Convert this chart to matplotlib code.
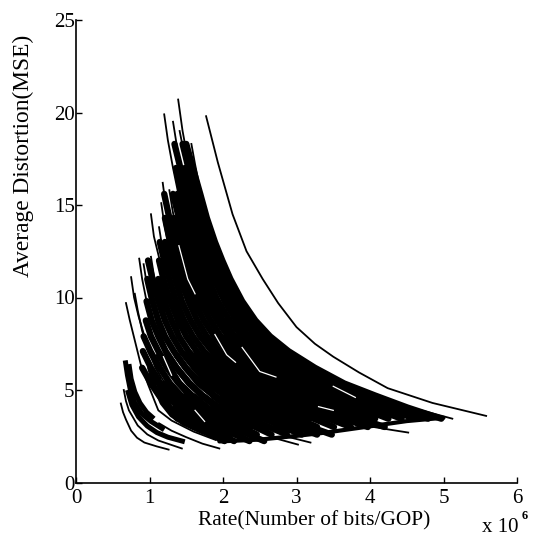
import matplotlib
matplotlib.use("Agg")
from matplotlib import pyplot as plt

plt.rcParams["font.family"] = ["Liberation Serif", "DejaVu Serif"]

X_TICKS = [0, 1, 2, 3, 4, 5, 6]
Y_TICKS = [0, 5, 10, 15, 20, 25]

# isolated curve on the right of the cloud
OUTER_RATE = [1.77, 1.93, 2.13, 2.32, 2.54, 2.75, 3.0, 3.25, 3.5, 3.85, 4.24, 4.85, 5.58]
OUTER_DIST = [19.8, 17.3, 14.5, 12.5, 11.0, 9.7, 8.4, 7.5, 6.8, 5.95, 5.1, 4.3, 3.6]

# dense cloud: each row holds the rates of one curve, lined up with the END
# of the distortion levels of its group (short rows start further down)
UPPER_LEVELS = [18.3, 17.0, 15.6, 14.3, 13.0, 12.0, 11.0, 9.8, 8.76, 7.9, 7.1, 6.2, 5.35, 4.7, 4.05, 3.45]
UPPER_RATES = [
    [1.50, 1.59, 1.69, 1.78, 1.89, 1.99, 2.10, 2.26, 2.44, 2.64, 2.89, 3.25, 3.65, 4.07, 4.51, 4.97],
    [1.45, 1.53, 1.63, 1.72, 1.82, 1.92, 2.03, 2.18, 2.36, 2.54, 2.79, 3.13, 3.52, 3.93, 4.35, 4.79],
    [1.48, 1.57, 1.66, 1.76, 1.85, 1.95, 2.10, 2.27, 2.45, 2.68, 3.02, 3.38, 3.78, 4.19, 4.61],
    [1.34, 1.42, 1.51, 1.59, 1.69, 1.77, 1.88, 2.02, 2.18, 2.35, 2.58, 2.90, 3.25, 3.63, 4.02, 4.43],
    [1.36, 1.44, 1.53, 1.62, 1.70, 1.80, 1.93, 2.09, 2.26, 2.47, 2.78, 3.12, 3.49, 3.86, 4.25],
    [1.38, 1.46, 1.55, 1.63, 1.73, 1.85, 2.00, 2.16, 2.37, 2.66, 2.99, 3.34, 3.70, 4.07],
    [1.32, 1.40, 1.48, 1.56, 1.65, 1.77, 1.92, 2.07, 2.26, 2.55, 2.86, 3.19, 3.53, 3.89],
    [1.33, 1.41, 1.49, 1.57, 1.69, 1.83, 1.97, 2.16, 2.43, 2.73, 3.05, 3.37, 3.71],
    [1.20, 1.27, 1.35, 1.41, 1.50, 1.61, 1.74, 1.88, 2.06, 2.31, 2.59, 2.90, 3.21, 3.53],
    [1.21, 1.28, 1.34, 1.42, 1.53, 1.65, 1.78, 1.95, 2.19, 2.46, 2.75, 3.05, 3.35],
    [1.21, 1.27, 1.35, 1.44, 1.56, 1.69, 1.85, 2.08, 2.33, 2.60, 2.88, 3.17],
    [1.14, 1.20, 1.27, 1.36, 1.47, 1.59, 1.74, 1.96, 2.20, 2.46, 2.72, 3.00],
    [1.13, 1.19, 1.28, 1.39, 1.50, 1.64, 1.84, 2.07, 2.31, 2.56, 2.82],
    [1.12, 1.20, 1.30, 1.40, 1.53, 1.73, 1.94, 2.16, 2.39, 2.64],
    [0.98, 1.04, 1.12, 1.21, 1.31, 1.43, 1.61, 1.80, 2.02, 2.23, 2.46],
    [0.97, 1.04, 1.12, 1.21, 1.33, 1.49, 1.67, 1.87, 2.07, 2.28],
    [0.96, 1.03, 1.12, 1.22, 1.37, 1.54, 1.72, 1.91, 2.10],
    [0.95, 1.02, 1.12, 1.26, 1.41, 1.58, 1.74, 1.92],
    [0.92, 1.01, 1.14, 1.28, 1.43, 1.58, 1.74],
    [0.91, 1.02, 1.15, 1.28, 1.42, 1.56],
    [0.90, 1.02, 1.13, 1.26, 1.38],
]

MIDDLE_LEVELS = [6.87, 6.18, 5.39, 4.65, 4.09, 3.52, 3.0]
MIDDLE_RATES = [
    [2.23, 2.44, 2.75, 3.08, 3.44, 3.81, 4.20],
    [2.11, 2.31, 2.60, 2.91, 3.26, 3.60, 3.97],
    [1.99, 2.18, 2.45, 2.74, 3.07, 3.39, 3.74],
    [1.86, 2.04, 2.29, 2.58, 2.88, 3.19, 3.51],
    [1.74, 1.91, 2.14, 2.41, 2.69, 2.98, 3.28],
    [1.62, 1.77, 1.99, 2.24, 2.50, 2.77, 3.05],
    [1.50, 1.64, 1.84, 2.07, 2.31, 2.56, 2.82],
    [1.37, 1.50, 1.69, 1.90, 2.12, 2.35, 2.59],
    [1.25, 1.37, 1.54, 1.73, 1.93, 2.14, 2.36],
    [1.13, 1.24, 1.39, 1.56, 1.74, 1.93, 2.12],
    [1.24, 1.39, 1.55, 1.72, 1.89],
    [1.24, 1.39, 1.53, 1.69],
]

LOWER_LEVELS = [4.65, 4.01, 3.53, 3.04, 2.59]
LOWER_RATES = [
    [2.28, 2.56, 2.86, 3.16, 3.48],
    [2.14, 2.41, 2.69, 2.98, 3.28],
    [2.01, 2.26, 2.52, 2.79, 3.07],
    [1.88, 2.11, 2.35, 2.60, 2.87],
    [1.74, 1.96, 2.18, 2.42, 2.66],
    [1.61, 1.80, 2.02, 2.23, 2.46],
    [1.47, 1.65, 1.85, 2.05, 2.25],
    [1.34, 1.50, 1.68, 1.86, 2.05],
    [1.35, 1.51, 1.67, 1.84],
]

BOTTOM_LEVELS = [3.48, 3.06, 2.63, 2.24]
BOTTOM_RATES = [
    [1.88, 2.10, 2.33, 2.56],
    [1.73, 1.93, 2.14, 2.36],
    [1.58, 1.76, 1.95, 2.15],
    [1.48, 1.65, 1.82, 2.02],
]

# left rim of the cloud, just above the white band
LEFT_RATE = [
    [1.00, 1.07, 1.17, 1.30, 1.46, 1.68, 1.92],
    [1.05, 1.15, 1.28, 1.45, 1.70, 2.05],
    [1.20, 1.32, 1.50, 1.75, 2.10],
]
LEFT_DIST = [
    [6.2, 5.2, 4.3, 3.65, 3.2, 2.8, 2.42],
    [6.0, 5.0, 4.1, 3.4, 2.9, 2.4],
    [5.4, 4.4, 3.6, 3.0, 2.5],
]

# lower rim of the cloud, where the curves end
RIM_RATE = [1.95, 2.50, 3.00, 3.40, 3.90, 4.50, 5.00]
RIM_DIST = [2.22, 2.32, 2.52, 2.70, 2.98, 3.32, 3.50]

# blob at the lower left, split from the cloud by a white band
BLOB_RATE = [
    [0.67, 0.70, 0.74, 0.80, 0.90, 1.02, 1.20],
    [0.72, 0.75, 0.80, 0.87, 0.96, 1.06],
    [0.70, 0.76, 0.85, 0.97, 1.10, 1.25, 1.48],
]
BLOB_DIST = [
    [6.6, 5.8, 5.0, 4.3, 3.7, 3.3, 2.85],
    [6.4, 5.6, 4.9, 4.3, 3.8, 3.45],
    [5.0, 4.2, 3.55, 3.05, 2.7, 2.45, 2.2],
]

# thin curves: spikes at the top, stripes on the left, tails at the bottom
THIN_RATE = [
    [1.39, 1.45, 1.52, 1.60],
    [1.20, 1.25, 1.32, 1.45],
    [1.32, 1.36, 1.42, 1.55],
    [1.41, 1.46, 1.53, 1.65],
    [1.57, 1.62, 1.68, 1.78],
    [1.18, 1.22, 1.28, 1.38],
    [1.16, 1.20, 1.26, 1.36],
    [1.27, 1.31, 1.37, 1.45],
    [1.02, 1.06, 1.14, 1.25, 1.42],
    [1.13, 1.17, 1.23, 1.32, 1.50],
    [1.02, 1.06, 1.12, 1.22, 1.40],
    [0.86, 0.90, 0.95, 1.04, 1.20, 1.40],
    [0.92, 0.96, 1.02, 1.10, 1.25],
    [0.75, 0.79, 0.85, 0.94, 1.08, 1.30],
    [0.80, 0.84, 0.90, 0.99, 1.15],
    [0.68, 0.73, 0.78, 0.88, 0.98, 1.12, 1.30, 1.60, 1.90],
    [1.13, 1.30, 1.50, 1.72, 1.95],
    [0.61, 0.64, 0.68, 0.75, 0.83, 0.93, 1.10, 1.26],
    [0.65, 0.68, 0.72, 0.84, 0.97, 1.12, 1.44],
    [3.90, 4.20, 4.52],
    [2.70, 3.02],
    [2.85, 3.19],
    [4.70, 5.12],
]
THIN_DIST = [
    [20.7, 19.0, 17.5, 16.0],
    [19.9, 18.5, 17.0, 14.5],
    [19.5, 18.5, 17.0, 15.0],
    [19.0, 18.0, 16.5, 14.5],
    [18.3, 17.2, 16.0, 14.5],
    [16.2, 15.0, 13.8, 12.0],
    [15.1, 14.0, 12.8, 11.2],
    [15.8, 14.8, 13.5, 12.0],
    [14.5, 13.3, 12.0, 10.0, 8.0],
    [13.8, 12.8, 11.8, 10.0, 8.0],
    [12.2, 11.2, 10.3, 9.0, 7.2],
    [12.1, 11.0, 10.0, 8.8, 7.0, 5.6],
    [11.8, 10.8, 9.8, 8.6, 7.0],
    [11.1, 10.0, 9.0, 7.8, 6.2, 4.8],
    [10.2, 9.3, 8.2, 7.0, 5.7],
    [9.7, 8.8, 8.0, 6.4, 5.3, 3.9, 3.35, 2.75, 2.3],
    [3.2, 2.8, 2.45, 2.1, 1.84],
    [4.27, 3.8, 3.4, 2.8, 2.42, 2.16, 1.95, 1.78],
    [5.0, 4.4, 3.9, 3.08, 2.6, 2.27, 1.84],
    [3.1, 2.9, 2.7],
    [2.4, 2.05],
    [2.5, 2.16],
    [3.9, 3.45],
]

# white streaks visible inside the cloud
STREAK_RATE = [
    [1.89, 2.05, 2.17],
    [2.26, 2.50, 2.72],
    [1.19, 1.30],
    [1.62, 1.75],
    [3.50, 3.80],
    [3.30, 3.50],
    [1.40, 1.52, 1.62],
]
STREAK_DIST = [
    [8.0, 6.9, 6.5],
    [7.3, 6.0, 5.7],
    [6.8, 5.8],
    [3.9, 3.3],
    [5.2, 4.6],
    [4.1, 3.9],
    [12.8, 11.0, 10.2],
]

# white specks inside the cloud
SPECK_RATE = [1.55, 1.62, 1.66, 1.70, 1.48, 1.58, 1.75, 1.80, 1.70, 1.85, 1.90, 1.42, 1.55, 2.05,
              1.30, 1.45, 1.75, 2.10, 2.30, 2.55, 2.65, 2.80, 2.92, 3.05, 2.20, 2.45, 2.78, 3.20,
              1.50, 1.70, 1.95, 2.25, 1.40, 1.60, 2.05, 2.40, 2.70, 3.00, 3.30, 3.55, 3.80, 4.05,
              1.75, 2.30, 2.85, 3.25, 3.60, 3.95, 4.25, 4.45, 4.30, 2.10, 2.55, 3.10, 3.45, 3.75,
              2.60, 3.15, 1.95, 4.10]
SPECK_DIST = [16.8, 15.6, 14.4, 13.6, 13.0, 14.0, 12.6, 12.0, 11.4, 11.0, 10.6, 11.5, 10.2, 9.4,
              9.0, 8.6, 9.0, 8.8, 8.3, 7.6, 7.2, 7.5, 7.0, 6.6, 7.1, 6.8, 6.2, 5.8,
              6.6, 6.1, 5.6, 5.2, 4.9, 4.6, 4.5, 4.7, 4.4, 4.1, 3.7, 4.7, 4.3, 4.4,
              3.4, 3.5, 3.3, 3.4, 3.2, 3.4, 3.9, 3.9, 3.5, 3.0, 2.9, 3.0, 2.9, 3.6,
              5.4, 5.0, 7.6, 3.7]

fig = plt.figure(figsize=(5.39, 5.39), dpi=100)
ax = fig.add_axes([76 / 539, 1 - 482.5 / 539, 441 / 539, 462.5 / 539])

for levels, rows in [(UPPER_LEVELS, UPPER_RATES), (MIDDLE_LEVELS, MIDDLE_RATES),
                     (LOWER_LEVELS, LOWER_RATES), (BOTTOM_LEVELS, BOTTOM_RATES)]:
    for row in rows:
        ax.plot(row, levels[-len(row):], color="k", lw=4.6, solid_capstyle="round",
                solid_joinstyle="round")
for xs, ys in zip(LEFT_RATE, LEFT_DIST):
    ax.plot(xs, ys, color="k", lw=3.4, solid_capstyle="round", solid_joinstyle="round")
ax.plot(RIM_RATE, RIM_DIST, color="k", lw=3.0, solid_capstyle="round")
for xs, ys in zip(BLOB_RATE, BLOB_DIST):
    ax.plot(xs, ys, color="k", lw=3.6, solid_capstyle="butt", solid_joinstyle="round")
for xs, ys in zip(THIN_RATE, THIN_DIST):
    ax.plot(xs, ys, color="k", lw=1.3)
for xs, ys in zip(STREAK_RATE, STREAK_DIST):
    ax.plot(xs, ys, color="w", lw=0.9)
ax.scatter(SPECK_RATE, SPECK_DIST, color="w", s=2.5, linewidths=0)
ax.plot(OUTER_RATE, OUTER_DIST, color="k", lw=1.3)

ax.set_xlim(0, 6)
ax.set_ylim(0, 25)
ax.set_xticks(X_TICKS)
ax.set_yticks(Y_TICKS)
ax.spines["top"].set_visible(False)
ax.spines["right"].set_visible(False)
ax.spines["left"].set_linewidth(1.2)
ax.spines["bottom"].set_linewidth(1.2)
ax.tick_params(direction="in", length=4, width=1.0, labelsize=15, pad=1)
ax.tick_params(axis="x", pad=5)

fig.text(314 / 539, 1 - 521 / 539, "Rate(Number of bits/GOP)", fontsize=15.4,
         ha="center", va="center")
fig.text(23 / 539, 1 - 156 / 539, "Average Distortion(MSE)", fontsize=16.8,
         rotation=90, ha="center", va="center")
fig.text(500 / 539, 1 - 528 / 539, "x 10", fontsize=15, ha="center", va="center")
fig.text(525 / 539, 1 - 516 / 539, "6", fontsize=9, fontweight="bold",
         ha="center", va="center")

plt.savefig("out.png", dpi=100)
